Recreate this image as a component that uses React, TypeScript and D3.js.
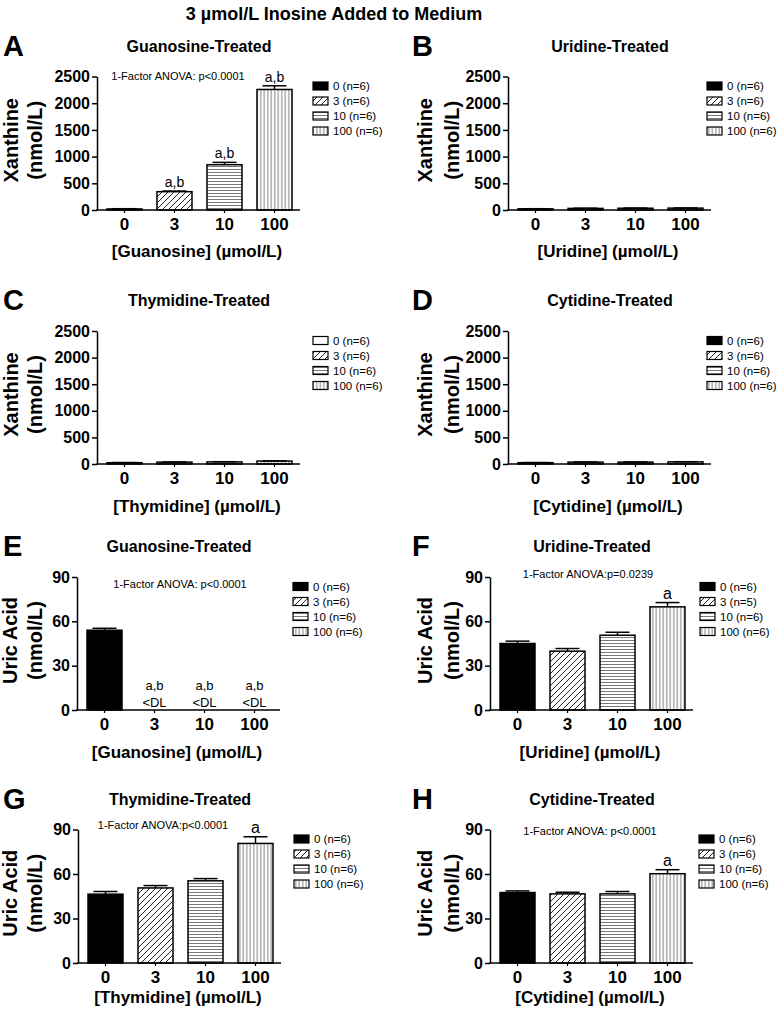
import React, { useEffect, useRef } from 'react';
import * as d3 from 'd3';

// dose groups (µmol/L)
const doses: string[] = ["0", "3", "10", "100"];
const legend_n6: string[] = ["0 (n=6)", "3 (n=6)", "10 (n=6)", "100 (n=6)"];
const legend_F: string[] = ["0 (n=6)", "3 (n=5)", "10 (n=6)", "100 (n=6)"];

const xanthine_ticks: number[] = [0, 500, 1000, 1500, 2000, 2500];
const uric_ticks: number[] = [0, 30, 60, 90];

// xanthine (nmol/L), mean and SEM
const xan_guanosine: number[] = [20, 343, 848, 2257];
const xan_guanosine_sem: number[] = [4, 12, 44, 69];
const xan_uridine: number[] = [22, 30, 33, 35];
const xan_uridine_sem: number[] = [2, 3, 3, 3];
const xan_thymidine: number[] = [25, 35, 40, 55];
const xan_thymidine_sem: number[] = [2, 3, 3, 4];
const xan_cytidine: number[] = [25, 35, 35, 40];
const xan_cytidine_sem: number[] = [2, 3, 3, 3];

// uric acid (nmol/L), mean and SEM
const uric_guanosine: number[] = [54, 0, 0, 0];
const uric_guanosine_sem: number[] = [1.3, 0, 0, 0];
const uric_uridine: number[] = [45, 39.8, 50.6, 69.8];
const uric_uridine_sem: number[] = [1.6, 1.8, 2.0, 2.9];
const uric_thymidine: number[] = [46.4, 50.6, 55.4, 80.6];
const uric_thymidine_sem: number[] = [1.8, 1.6, 1.5, 4.5];
const uric_cytidine: number[] = [47.5, 46.6, 46.6, 60.2];
const uric_cytidine_sem: number[] = [1.1, 1.1, 1.6, 2.7];

const font = "'Liberation Sans', Arial, Helvetica, sans-serif";

type Panel = {
  letter: string, letterX: number, x0: number, yTop: number, y0: number, xlabDy: number,
  ymax: number, ticks: number[], title: string, ylab: string[], ylabX: number[],
  xlab: string, values: number[], sem: number[], legend: string[], legendX: number,
  firstFill: string, anova?: { text: string, x: number, y: number }, sig: string[]
};

const panels: Panel[] = [
  { letter: "A", letterX: 3, x0: 97, yTop: 76.5, y0: 210, xlabDy: 47, ymax: 2500, ticks: xanthine_ticks, title: "Guanosine-Treated",
    ylab: ["Xanthine", "(nmol/L)"], ylabX: [11, 35], xlab: "[Guanosine] (µmol/L)", values: xan_guanosine, sem: xan_guanosine_sem,
    legend: legend_n6, legendX: 313, firstFill: "black", anova: { text: "1-Factor ANOVA: p<0.0001", x: 178, y: 76 }, sig: ["", "a,b", "a,b", "a,b"] },
  { letter: "B", letterX: 412, x0: 508, yTop: 76.5, y0: 210, xlabDy: 47, ymax: 2500, ticks: xanthine_ticks, title: "Uridine-Treated",
    ylab: ["Xanthine", "(nmol/L)"], ylabX: [425, 452], xlab: "[Uridine] (µmol/L)", values: xan_uridine, sem: xan_uridine_sem,
    legend: legend_n6, legendX: 707, firstFill: "black", sig: ["", "", "", ""] },
  { letter: "C", letterX: 3, x0: 97, yTop: 331, y0: 464, xlabDy: 48, ymax: 2500, ticks: xanthine_ticks, title: "Thymidine-Treated",
    ylab: ["Xanthine", "(nmol/L)"], ylabX: [11, 35], xlab: "[Thymidine] (µmol/L)", values: xan_thymidine, sem: xan_thymidine_sem,
    legend: legend_n6, legendX: 313, firstFill: "white", sig: ["", "", "", ""] },
  { letter: "D", letterX: 412, x0: 508, yTop: 331, y0: 464, xlabDy: 48, ymax: 2500, ticks: xanthine_ticks, title: "Cytidine-Treated",
    ylab: ["Xanthine", "(nmol/L)"], ylabX: [425, 452], xlab: "[Cytidine] (µmol/L)", values: xan_cytidine, sem: xan_cytidine_sem,
    legend: legend_n6, legendX: 707, firstFill: "black", sig: ["", "", "", ""] },
  { letter: "E", letterX: 3, x0: 77, yTop: 577, y0: 710, xlabDy: 48, ymax: 90, ticks: uric_ticks, title: "Guanosine-Treated",
    ylab: ["Uric Acid", "(nmol/L)"], ylabX: [10, 35], xlab: "[Guanosine] (µmol/L)", values: uric_guanosine, sem: uric_guanosine_sem,
    legend: legend_n6, legendX: 293, firstFill: "black", anova: { text: "1-Factor ANOVA:  p<0.0001", x: 180, y: 584 }, sig: ["", "a,b", "a,b", "a,b"] },
  { letter: "F", letterX: 412, x0: 490, yTop: 577, y0: 710, xlabDy: 48, ymax: 90, ticks: uric_ticks, title: "Uridine-Treated",
    ylab: ["Uric Acid", "(nmol/L)"], ylabX: [425, 452], xlab: "[Uridine] (µmol/L)", values: uric_uridine, sem: uric_uridine_sem,
    legend: legend_F, legendX: 700, firstFill: "black", anova: { text: "1-Factor ANOVA:p=0.0239", x: 588, y: 574 }, sig: ["", "", "", "a"] },
  { letter: "G", letterX: 3, x0: 78, yTop: 829.5, y0: 963, xlabDy: 40, ymax: 90, ticks: uric_ticks, title: "Thymidine-Treated",
    ylab: ["Uric Acid", "(nmol/L)"], ylabX: [10, 35], xlab: "[Thymidine] (µmol/L)", values: uric_thymidine, sem: uric_thymidine_sem,
    legend: legend_n6, legendX: 294, firstFill: "black", anova: { text: "1-Factor ANOVA:p<0.0001", x: 163, y: 825 }, sig: ["", "", "", "a"] },
  { letter: "H", letterX: 412, x0: 490, yTop: 829.5, y0: 963, xlabDy: 40, ymax: 90, ticks: uric_ticks, title: "Cytidine-Treated",
    ylab: ["Uric Acid", "(nmol/L)"], ylabX: [425, 452], xlab: "[Cytidine] (µmol/L)", values: uric_cytidine, sem: uric_cytidine_sem,
    legend: legend_n6, legendX: 699, firstFill: "black", anova: { text: "1-Factor ANOVA: p<0.0001", x: 590, y: 831 }, sig: ["", "", "", "a"] },
];

const drawPanel = (svg: any, p: Panel) => {
  const g = svg.append("g");
  const x = d3.scaleBand<string>().domain(doses).range([p.x0 + 2.5, p.x0 + 202.5]).paddingInner(0.3).paddingOuter(0.15);
  const y = d3.scaleLinear().domain([0, p.ymax]).range([p.y0, p.yTop]);
  const fills = [p.firstFill, "url(#diag)", "url(#horiz)", "url(#vert)"];

  // letter + title
  g.append("text").attr("x", p.letterX).attr("y", p.yTop - 21).attr("font-size", 29).attr("font-weight", "bold").text(p.letter);
  g.append("text").attr("x", p.x0 + 102).attr("y", p.yTop - 25).attr("text-anchor", "middle")
    .attr("font-size", 16).attr("font-weight", "bold").text(p.title);

  // y axis title
  const cy = (p.yTop + p.y0) / 2 - 3;
  p.ylab.forEach((s, i) => {
    g.append("text").attr("transform", `translate(${p.ylabX[i] + 7},${cy}) rotate(-90)`)
      .attr("text-anchor", "middle").attr("font-size", 20).attr("font-weight", "bold").text(s);
  });

  // bars
  g.selectAll(".bar").data(p.values).join("rect")
    .attr("x", (d: number, i: number) => x(doses[i]) as number)
    .attr("width", x.bandwidth())
    .attr("y", (d: number) => y(d))
    .attr("height", (d: number) => Math.max(0, p.y0 - y(d)))
    .attr("fill", (d: number, i: number) => fills[i])
    .attr("stroke", (d: number) => d > 0 ? "black" : "none")
    .attr("stroke-width", 1.5);

  // error bars (upper only)
  p.values.forEach((v, i) => {
    if (v <= 0) return;
    const cx = (x(doses[i]) as number) + x.bandwidth() / 2;
    const top = y(v + p.sem[i]);
    g.append("line").attr("x1", cx).attr("x2", cx).attr("y1", y(v)).attr("y2", top).attr("stroke", "black").attr("stroke-width", 1.5);
    g.append("line").attr("x1", cx - 12).attr("x2", cx + 12).attr("y1", top).attr("y2", top).attr("stroke", "black").attr("stroke-width", 1.5);
  });

  // significance labels
  p.sig.forEach((s, i) => {
    if (!s) return;
    const cx = (x(doses[i]) as number) + x.bandwidth() / 2;
    const v = p.values[i];
    if (v <= 0) {
      g.append("text").attr("x", cx).attr("y", p.y0 - 20).attr("text-anchor", "middle").attr("font-size", 13).text(s);
      g.append("text").attr("x", cx).attr("y", p.y0 - 3).attr("text-anchor", "middle").attr("font-size", 13).text("<DL");
    } else {
      g.append("text").attr("x", cx).attr("y", y(v + p.sem[i]) - 4).attr("text-anchor", "middle")
        .attr("font-size", s === "a" ? 16 : 14).text(s);
    }
  });

  // axes
  const ya = g.append("g").attr("transform", `translate(${p.x0},0)`)
    .call(d3.axisLeft(y).tickValues(p.ticks).tickFormat(d3.format("d")).tickSize(5).tickSizeOuter(0).tickPadding(2));
  ya.select(".domain").attr("stroke-width", 1.5);
  ya.selectAll(".tick line").attr("stroke-width", 1.5);
  ya.selectAll("text").attr("font-size", 16).attr("font-weight", "bold").attr("font-family", font).attr("fill", "black");

  const xa = g.append("g").attr("transform", `translate(0,${p.y0})`)
    .call(d3.axisBottom(x).tickSize(3).tickPadding(5));
  xa.select(".domain").remove();
  xa.selectAll(".tick line").attr("stroke-width", 1.2);
  xa.selectAll("text").attr("font-size", 17).attr("font-weight", "bold").attr("font-family", font).attr("fill", "black");
  g.append("line").attr("x1", p.x0 - 0.75).attr("x2", p.x0 + 203).attr("y1", p.y0).attr("y2", p.y0)
    .attr("stroke", "black").attr("stroke-width", 1.5);

  g.append("text").attr("x", p.x0 + 100).attr("y", p.y0 + p.xlabDy).attr("text-anchor", "middle")
    .attr("font-size", 17).attr("font-weight", "bold").text(p.xlab);

  if (p.anova) {
    g.append("text").attr("x", p.anova.x).attr("y", p.anova.y + 4).attr("text-anchor", "middle")
      .attr("font-size", 11).text(p.anova.text);
  }

  // legend
  p.legend.forEach((s, i) => {
    const ly = p.yTop + 9.5 + i * 15;
    g.append("rect").attr("x", p.legendX).attr("y", ly - 4).attr("width", 15).attr("height", 8)
      .attr("fill", fills[i]).attr("stroke", "black").attr("stroke-width", 1.2);
    g.append("text").attr("x", p.legendX + 20).attr("y", ly + 4).attr("font-size", 11.5).text(s);
  });
};

export default function App() {
  const ref = useRef<SVGSVGElement>(null);

  useEffect(() => {
    const svg = d3.select(ref.current);
    svg.selectAll("*").remove();
    svg.attr("font-family", font);

    const defs = svg.append("defs");
    const diag = defs.append("pattern").attr("id", "diag").attr("patternUnits", "userSpaceOnUse").attr("width", 6).attr("height", 6);
    diag.append("rect").attr("width", 6).attr("height", 6).attr("fill", "white");
    diag.append("path").attr("d", "M0,6 L6,0 M-1,1 L1,-1 M5,7 L7,5").attr("stroke", "#222").attr("stroke-width", 1);
    const horiz = defs.append("pattern").attr("id", "horiz").attr("patternUnits", "userSpaceOnUse").attr("width", 4).attr("height", 3);
    horiz.append("rect").attr("width", 4).attr("height", 3).attr("fill", "white");
    horiz.append("line").attr("x1", 0).attr("x2", 4).attr("y1", 1.5).attr("y2", 1.5).attr("stroke", "#555").attr("stroke-width", 0.8);
    const vert = defs.append("pattern").attr("id", "vert").attr("patternUnits", "userSpaceOnUse").attr("width", 3.5).attr("height", 4);
    vert.append("rect").attr("width", 3.5).attr("height", 4).attr("fill", "white");
    vert.append("line").attr("x1", 1.75).attr("x2", 1.75).attr("y1", 0).attr("y2", 4).attr("stroke", "#555").attr("stroke-width", 0.8);

    svg.append("text").attr("x", 334).attr("y", 20).attr("text-anchor", "middle")
      .attr("font-size", 18).attr("font-weight", "bold").text("3 µmol/L Inosine Added to Medium");

    panels.forEach(p => drawPanel(svg, p));
  }, []);

  return (
    <div style={{ position: 'absolute', left: 0, top: 0 }}>
      <svg ref={ref} width={778} height={1017} style={{ display: 'block', background: 'white' }} />
    </div>
  );
}
